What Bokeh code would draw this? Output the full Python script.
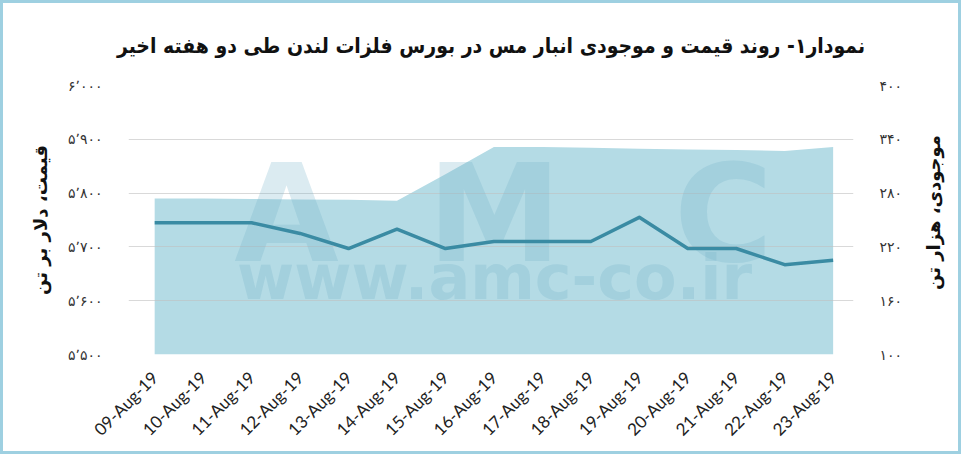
from bokeh.plotting import figure
from bokeh.models import Range1d, LinearAxis, FixedTicker, Label, Div
from bokeh.layouts import row
from bokeh.embed import file_html
from bokeh.resources import INLINE

# data
dates = ["09-Aug-19", "10-Aug-19", "11-Aug-19", "12-Aug-19", "13-Aug-19",
         "14-Aug-19", "15-Aug-19", "16-Aug-19", "17-Aug-19", "18-Aug-19",
         "19-Aug-19", "20-Aug-19", "21-Aug-19", "22-Aug-19", "23-Aug-19"]
price = [5745, 5745, 5745, 5725, 5697, 5733, 5697, 5710, 5710, 5710,
         5755, 5697, 5697, 5667, 5675]          # $/t, left axis
stock = [274, 274, 273.5, 273, 272.5, 271.5, 301, 331.5, 331.5, 330.5,
         329.5, 328.5, 328, 327, 331.5]         # thousand t, right axis
price_ticks = [5500, 5600, 5700, 5800, 5900, 6000]
stock_ticks = [100, 160, 220, 280, 340, 400]

title_text = "نمودار۱- روند قیمت و موجودی انبار مس در بورس فلزات لندن طی دو هفته اخیر"
left_title = "قیمت، دلار بر تن"
right_title = "موجودی، هزار تن"

FA = str.maketrans("0123456789", "۰۱۲۳۴۵۶۷۸۹")


def fa(n):
    return f"{n:,}".replace(",", "٬").translate(FA)


FONT_FA = "DejaVu Sans"
AREA = "#b4dbe5"
LINE = "#3a8ba3"

p = figure(width=905, height=448,
           x_range=Range1d(-0.54, 14.42), y_range=Range1d(5500, 6000),
           output_backend="svg", toolbar_location=None,
           min_border_left=125, min_border_right=55,
           min_border_top=82, min_border_bottom=97)
p.outline_line_color = None
p.background_fill_color = "white"
p.border_fill_color = "white"

p.title.text = title_text
p.title.align = "center"
p.title.offset = 35
p.title.text_font = "'DejaVu Sans Condensed', 'DejaVu Sans'"
p.title.text_font_size = "21px"
p.title.text_font_style = "bold"
p.title.text_color = "#111111"
p.title.standoff = 56

p.extra_y_ranges = {"stock": Range1d(100, 400)}

x = list(range(len(dates)))
area = p.varea(x=x, y1=100, y2=stock, fill_color=AREA, y_range_name="stock")
area.level = "underlay"

# faint watermark
for txt, sx, sy, size in [("A", 158, 62, "135px"), ("M", 366, 62, "135px"),
                          ("C", 595, 62, "135px"),
                          ("www.amc-co.ir", 366, 41, "62px")]:
    p.add_layout(Label(x=sx, y=sy, x_units="screen", y_units="screen", text=txt,
                       text_font="DejaVu Sans", text_font_style="bold",
                       text_font_size=size, text_align="center",
                       text_color="#6fb0c6", text_alpha=0.25, level="underlay"))

p.line(x, price, line_width=3.5, line_color=LINE, line_join="round")

p.xgrid.visible = False
p.ygrid.ticker = FixedTicker(ticks=price_ticks)
p.ygrid.grid_line_color = "#bfbfbf"
p.ygrid.grid_line_alpha = 0.6

p.xaxis.ticker = FixedTicker(ticks=x)
p.xaxis.major_label_overrides = {i: d for i, d in enumerate(dates)}
p.xaxis.major_label_orientation = 0.785
p.xaxis.major_label_text_font = "Lato"
p.xaxis.major_label_text_font_size = "17px"
p.xaxis.major_label_text_color = "#222222"
p.xaxis.major_label_standoff = 14

right = LinearAxis(y_range_name="stock")
p.add_layout(right, "right")

p.yaxis[0].ticker = FixedTicker(ticks=price_ticks)
p.yaxis[0].major_label_overrides = {v: fa(v) for v in price_ticks}
p.yaxis[0].axis_label = left_title
p.yaxis[0].axis_label_standoff = 14
p.yaxis[0].axis_label_text_font = FONT_FA
p.yaxis[0].axis_label_text_font_size = "18px"
p.yaxis[0].axis_label_text_font_style = "bold"
p.yaxis[0].axis_label_text_color = "#111111"
right.ticker = FixedTicker(ticks=stock_ticks)
right.major_label_overrides = {v: fa(v) for v in stock_ticks}

for ax in [p.xaxis[0], p.yaxis[0], right]:
    ax.axis_line_color = None
    ax.major_tick_line_color = None
    ax.minor_tick_line_color = None
for ax in [p.yaxis[0], right]:
    ax.major_label_text_font = FONT_FA
    ax.major_label_text_font_size = "14px"
    ax.major_label_text_color = "#333333"
    ax.major_label_standoff = 20

# right-hand axis title, reading bottom to top like the left one
side = Div(width=50, height=448, margin=0, text=(
    '<div style="width:50px;height:448px;display:flex;align-items:center;'
    'justify-content:center;background:white;">'
    '<span style="display:inline-block;transform:rotate(-90deg);'
    "white-space:nowrap;margin-bottom:30px;font:bold 18px 'DejaVu Sans';"
    f'color:#111111;">{right_title}</span></div>'))

layout = row(p, side)
layout.styles = {"border": "3px solid #9ed0e1", "background": "white"}

open("out.html", "w").write(file_html(layout, INLINE))
